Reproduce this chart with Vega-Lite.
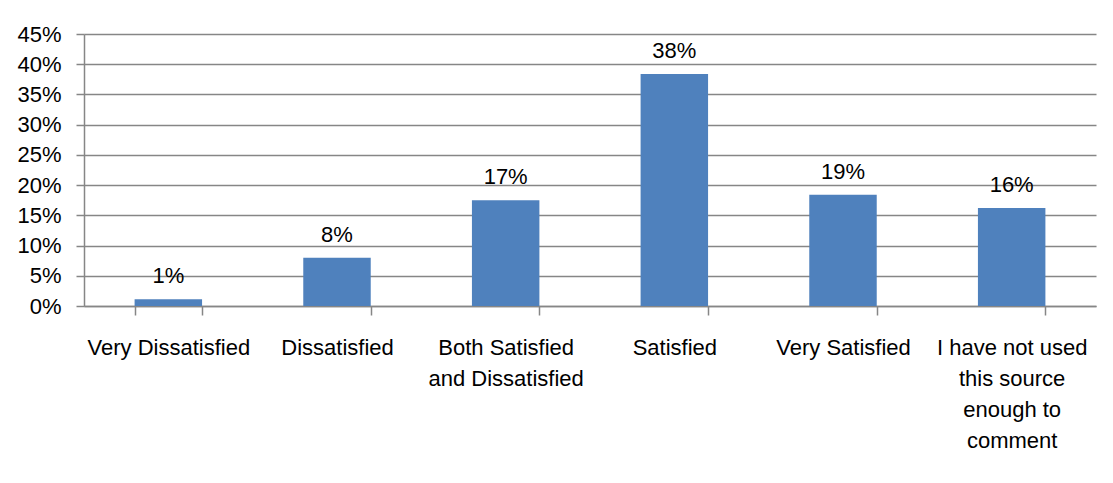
{
  "$schema": "https://vega.github.io/schema/vega-lite/v6.json",
  "width": 1012,
  "height": 272,
  "autosize": {"type": "none"},
  "padding": {"left": 84, "top": 34, "right": 17, "bottom": 177},
  "background": "white",
  "config": {
    "view": {"stroke": null},
    "font": "Liberation Sans, Arial, sans-serif"
  },
  "data": {
    "values": [
      {"category": "Very Dissatisfied", "value": 0.011, "label": "1%"},
      {"category": "Dissatisfied", "value": 0.080, "label": "8%"},
      {"category": "Both Satisfied and Dissatisfied", "value": 0.175, "label": "17%"},
      {"category": "Satisfied", "value": 0.384, "label": "38%"},
      {"category": "Very Satisfied", "value": 0.184, "label": "19%"},
      {"category": "I have not used this source enough to comment", "value": 0.162, "label": "16%"}
    ]
  },
  "encoding": {
    "x": {
      "field": "category",
      "type": "nominal",
      "sort": null,
      "scale": {"paddingInner": 0.6, "paddingOuter": 0.3},
      "axis": {
        "title": null,
        "labelAngle": 0,
        "labelFont": "Liberation Sans, Arial, sans-serif",
        "labelFontSize": 22,
        "labelColor": "#000000",
        "labelPadding": 22,
        "labelLineHeight": 31,
        "labelBaseline": "top",
        "labelLimit": 0,
        "ticks": true,
        "tickBand": "extent",
        "tickSize": 9,
        "tickWidth": 1.5,
        "tickColor": "#868686",
        "domainColor": "#868686",
        "domainWidth": 1.5,
        "labelExpr": "datum.value == 'Both Satisfied and Dissatisfied' ? ['Both Satisfied', 'and Dissatisfied'] : datum.value == 'I have not used this source enough to comment' ? ['I have not used', 'this source', 'enough to', 'comment'] : datum.value",
        "grid": false
      }
    },
    "y": {
      "field": "value",
      "type": "quantitative",
      "scale": {"domain": [0, 0.45], "nice": false},
      "axis": {
        "title": null,
        "format": ".0%",
        "values": [0, 0.05, 0.1, 0.15, 0.2, 0.25, 0.3, 0.35, 0.4, 0.45],
        "labelFont": "Liberation Sans, Arial, sans-serif",
        "labelFontSize": 22,
        "labelColor": "#000000",
        "labelPadding": 15,
        "tickSize": 8,
        "tickWidth": 1.5,
        "tickColor": "#868686",
        "domainColor": "#868686",
        "domainWidth": 1.5,
        "gridColor": "#868686",
        "gridWidth": 1.5,
        "grid": true
      }
    }
  },
  "layer": [
    {"mark": {"type": "bar", "color": "#4F81BD"}},
    {
      "mark": {
        "type": "text",
        "font": "Liberation Sans, Arial, sans-serif",
        "fontSize": 22,
        "color": "#000000",
        "baseline": "alphabetic",
        "dy": -16
      },
      "encoding": {"text": {"field": "label"}}
    }
  ]
}
